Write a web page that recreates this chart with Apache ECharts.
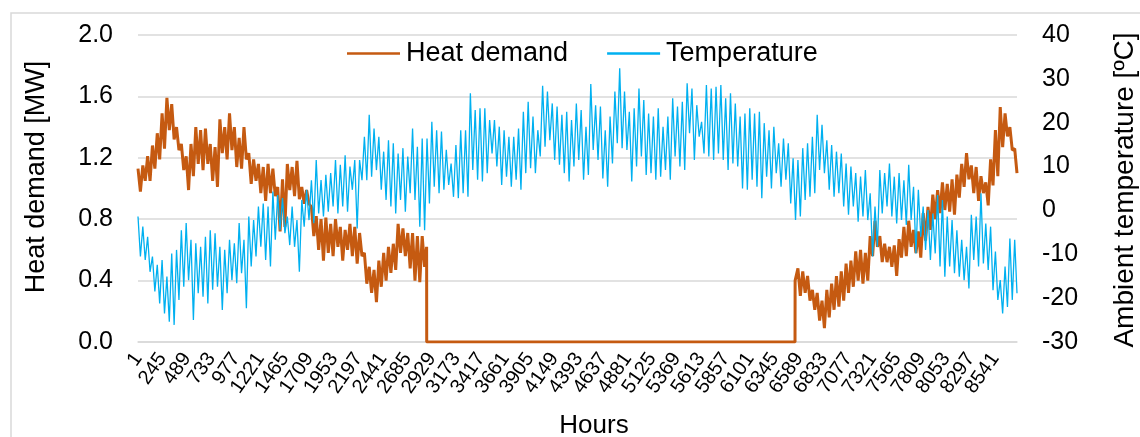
<!DOCTYPE html>
<html><head><meta charset="utf-8">
<script src="https://cdn.jsdelivr.net/npm/echarts@6/dist/echarts.min.js"></script>
<style>html,body{margin:0;padding:0;background:#fff}#c{width:1140px;height:437px}</style>
</head><body><div id="c"></div>
<script>
// ---- data (hourly year, 8760 h) ----
const hourCount = 8760;
const stepHours = 48;            // one high + one low reading per 48 h
const labelEvery = 244;          // x tick labels 1, 245, 489, ...
const legendNames = ['Heat demand', 'Temperature'];

// Ambient temperature [°C] – upper/lower envelope per 48 h step
const tempHigh = [
 -1.4,-3.7,-6.0,-10.5,-12.4,-11.3,-15.1,-9.8,-9.0,-4.5,
 -2.9,-6.7,-7.5,-8.3,-6.0,-4.5,-5.2,-8.3,-9.0,-6.7,
 -7.5,-2.9,-6.7,-1.4,-2.2,0.9,1.6,0.9,4.3,3.5,
 2.8,-1.4,0.9,-2.2,2.4,4.7,6.9,11.5,6.9,8.1,
 8.5,11.5,10.4,12.6,10.0,11.5,11.5,16.8,21.8,18.7,
 16.8,13.4,16.0,15.3,13.0,14.2,12.3,18.7,14.5,16.4,
 16.4,20.2,18.3,18.0,13.8,10.7,14.9,18.3,18.3,26.7,
 22.9,23.3,23.3,20.6,20.6,19.1,18.3,16.8,16.8,18.7,
 22.5,24.8,21.4,18.3,28.4,27.1,24.4,23.7,21.8,22.5,
 20.6,24.4,22.9,19.1,28.8,24.0,23.7,18.3,21.4,27.1,
 32.4,27.1,22.5,23.3,27.8,25.2,22.1,21.4,23.3,19.1,
 21.4,25.6,23.7,24.8,29.0,27.8,24.0,20.2,28.6,27.8,
 28.2,28.6,25.6,26.7,24.4,21.4,22.1,23.3,22.1,22.5,
 19.9,18.3,19.1,15.3,16.4,15.3,11.9,11.5,14.2,15.3,
 16.8,21.8,19.5,16.0,14.9,13.4,13.0,10.7,10.0,8.5,
 7.7,9.2,3.9,0.9,9.2,8.5,10.7,7.7,8.5,6.9,
 10.4,5.4,4.7,0.9,0.1,-0.7,3.5,2.4,-1.4,-2.2,
 -4.5,-6.7,-8.3,-1.0,-1.4,3.9,-3.0,-3.7,-9.4,-15.9,
 -12.8,-6.4,-6.7
];
const tempLow = [
 -10.5,-11.3,-14.0,-18.5,-21.2,-23.5,-25.4,-26.1,-20.4,-17.4,
 -15.9,-25.0,-18.9,-19.7,-21.2,-18.1,-17.4,-22.7,-18.9,-15.9,
 -16.6,-14.3,-22.3,-12.8,-10.5,-8.3,-11.3,-12.8,-6.7,-4.5,
 -5.2,-7.9,-8.3,-14.0,-3.7,-2.2,-2.9,-0.7,-1.4,-0.3,
 0.9,-0.7,0.9,-0.3,4.7,-4.1,6.9,6.9,7.7,9.2,
 4.7,2.4,0.9,-0.7,2.4,-0.3,3.9,2.4,-3.7,-4.5,
 1.6,5.4,3.9,4.7,5.8,3.1,2.8,3.9,3.1,9.2,
 7.0,6.6,8.5,13.0,10.0,5.8,7.7,5.4,7.0,4.7,
 8.5,9.6,8.5,12.3,14.5,16.0,11.5,10.4,8.5,6.6,
 10.0,11.5,7.0,8.1,13.8,11.5,7.3,5.4,10.7,15.3,
 14.2,13.8,6.6,10.0,12.3,8.1,8.5,7.0,7.7,9.2,
 7.0,12.3,10.0,9.2,17.6,11.5,16.8,13.0,12.3,11.5,
 13.0,11.5,9.2,10.7,10.0,5.0,4.7,7.0,5.4,2.8,
 7.7,5.0,8.5,5.4,7.0,1.6,-2.2,-1.4,2.4,3.1,
 3.9,9.2,8.5,4.7,3.1,3.9,0.9,-1.0,0.9,-2.6,
 -1.4,-2.2,-10.5,-8.3,-0.7,0.9,-1.4,-3.0,-2.2,-3.3,
 -2.2,-9.8,-6.0,-9.0,-11.3,-9.8,-12.8,-15.1,-12.8,-14.3,
 -15.1,-15.9,-17.8,-11.3,-12.8,-12.1,-13.6,-18.2,-20.4,-23.5,
 -22.0,-20.4,-18.9
];

// Heat demand [MW] – spring season (steps 0..59)
const heatSpringHigh = [
 1.13,1.15,1.21,1.28,1.36,1.49,1.59,1.55,1.40,1.29,
 1.21,1.29,1.40,1.38,1.39,1.29,1.27,1.45,1.40,1.49,
 1.40,1.33,1.40,1.23,1.19,1.16,1.14,1.16,1.13,1.01,
 1.06,1.16,1.14,1.18,1.01,0.99,0.88,0.82,0.80,0.81,
 0.77,0.80,0.75,0.73,0.77,0.75,0.71,0.58,0.49,0.47,
 0.53,0.58,0.62,0.64,0.77,0.74,0.71,0.71,0.69,0.69
];
const heatSpringLow = [
 0.98,1.05,1.05,1.13,1.19,1.26,1.38,1.32,1.25,1.12,
 0.99,1.08,1.16,1.12,1.16,1.05,1.01,1.23,1.19,1.25,
 1.14,1.13,1.19,1.03,1.05,0.97,0.92,0.97,0.95,0.72,
 0.75,0.99,0.95,0.93,0.90,0.90,0.69,0.60,0.53,0.58,
 0.56,0.62,0.53,0.60,0.56,0.51,0.56,0.38,0.32,0.26,
 0.36,0.40,0.45,0.47,0.58,0.56,0.48,0.40,0.39,0.49
];
// Heat demand [MW] – autumn season (steps 137..182)
const autumnStartStep = 137;
const heatAutumnHigh = [
 0.48,0.46,0.43,0.34,0.32,0.27,0.34,0.38,0.43,0.46,0.51,0.53,0.59,
 0.60,0.58,0.69,0.79,0.69,0.64,0.62,0.63,0.67,0.75,
 0.79,0.73,0.72,0.84,0.88,0.96,0.99,1.04,1.03,1.06,
 1.09,1.16,1.23,1.15,1.14,1.08,1.04,1.19,1.38,1.53,
 1.49,1.40,1.26
];
const heatAutumnLow = [
 0.30,0.32,0.27,0.21,0.14,0.09,0.16,0.21,0.23,0.27,0.32,0.36,0.40,
 0.38,0.40,0.56,0.62,0.52,0.52,0.49,0.43,0.55,0.56,
 0.62,0.58,0.55,0.66,0.73,0.80,0.84,0.86,0.85,0.83,
 0.94,1.01,1.06,0.97,0.92,0.97,0.89,1.02,1.08,1.27,
 1.34,1.25,1.10
];
// heating switched off / on
const heatOffHour = 2877, heatOffValue = 0.62;
const heatOnHour = 6549, heatOnValue = 0.40;

// ---- build series ----
const hours = Array.from({length: hourCount}, (_, i) => String(i + 1));
function envelope(hi, lo, firstStep) {
  const out = [];
  hi.forEach((v, k) => {
    const s = firstStep + k;
    out.push([Math.min(hourCount - 1, s * stepHours), v]);
    if (lo[k] != null) out.push([Math.min(hourCount - 1, s * stepHours + 24), lo[k]]);
  });
  return out;
}
const tempData = envelope(tempHigh, tempLow, 0);
const heatData = [].concat(
  envelope(heatSpringHigh, heatSpringLow, 0),
  [[heatOffHour - 1, heatOffValue], [heatOffHour, 0], [heatOnHour - 2, 0], [heatOnHour - 1, heatOnValue]],
  envelope(heatAutumnHigh, heatAutumnLow, autumnStartStep)
);

const FONT = '"Liberation Sans", Arial, sans-serif';
const chart = echarts.init(document.getElementById('c'), null, {renderer: 'canvas'});
chart.setOption({
  animation: false,
  backgroundColor: '#fff',
  grid: {left: 138, right: 123, top: 35, bottom: 95},
  legend: {
    data: legendNames.map(n => ({name: n, icon: 'rect'})),
    left: 342, top: 35, itemWidth: 53, itemHeight: 2.5, itemGap: 39,
    textStyle: {fontSize: 27, fontFamily: FONT, color: '#000', padding: [0, 0, 0, 1]}
  },
  xAxis: {
    type: 'category', data: hours, boundaryGap: false,
    axisLine: {lineStyle: {color: '#d9d9d9', width: 1.5}},
    axisTick: {show: false},
    axisLabel: {interval: idx => idx % labelEvery === 0, showMinLabel: true, showMaxLabel: true, hideOverlap: false,
      rotate: 55, fontSize: 20, fontFamily: FONT, color: '#000', margin: 13}
  },
  yAxis: [
    {type: 'value', min: 0, max: 2, interval: 0.4,
     axisLine: {show: false}, axisTick: {show: false},
     splitLine: {lineStyle: {color: '#d9d9d9', width: 1.5}},
     axisLabel: {formatter: v => v.toFixed(1), fontSize: 25, fontFamily: FONT, color: '#000', margin: 25}},
    {type: 'value', min: -30, max: 40, interval: 10, position: 'right',
     axisLine: {show: false}, axisTick: {show: false}, splitLine: {show: false},
     axisLabel: {fontSize: 25, fontFamily: FONT, color: '#000', margin: 25}}
  ],
  series: [
    {name: legendNames[0], type: 'line', yAxisIndex: 0, data: heatData, symbol: 'none',
     lineStyle: {color: '#C55A11', width: 3}, itemStyle: {color: '#C55A11'}},
    {name: legendNames[1], type: 'line', yAxisIndex: 1, data: tempData, symbol: 'none',
     lineStyle: {color: '#00B0F0', width: 1.3}, itemStyle: {color: '#00B0F0'}}
  ],
  graphic: [
    {type: 'rect', shape: {x: 11, y: 13, width: 1200, height: 500}, style: {fill: 'none', stroke: '#d9d9d9', lineWidth: 1.5}, silent: true},
    {type: 'text', x: 37, y: 177, rotation: Math.PI / 2,
     style: {text: 'Heat demand [MW]', font: '27px ' + FONT, fill: '#000', align: 'center', verticalAlign: 'middle'}},
    {type: 'text', x: 1125, y: 190, rotation: Math.PI / 2,
     style: {text: 'Ambient temperature [ºC]', font: '28px ' + FONT, fill: '#000', align: 'center', verticalAlign: 'middle'}},
    {type: 'text', x: 594, y: 426,
     style: {text: 'Hours', font: '26px ' + FONT, fill: '#000', align: 'center', verticalAlign: 'middle'}}
  ]
});
</script></body></html>
